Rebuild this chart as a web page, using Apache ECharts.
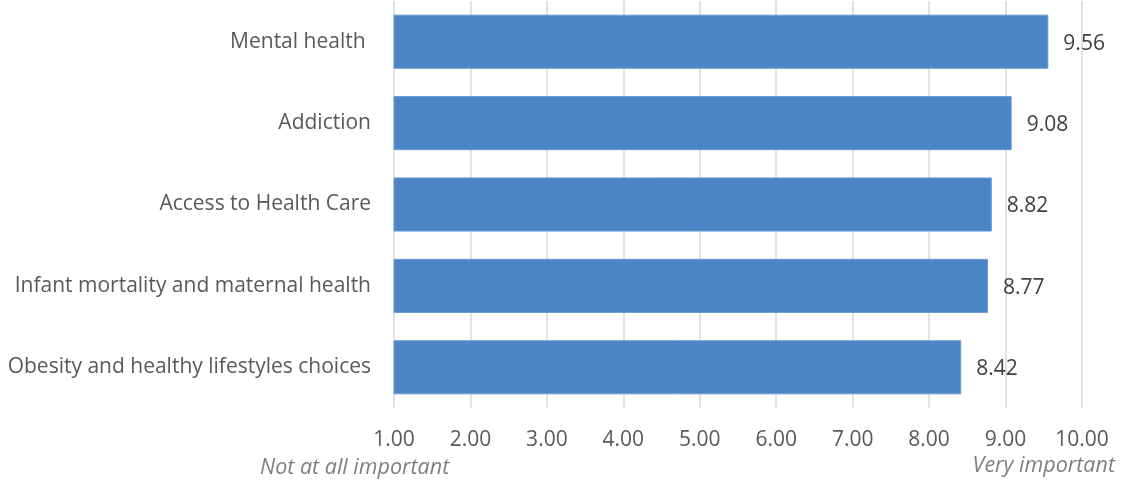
<!DOCTYPE html>
<html>
<head>
<meta charset="utf-8">
<script src="https://cdn.jsdelivr.net/npm/echarts@6/dist/echarts.min.js"></script>
<style>
html,body{margin:0;padding:0;background:#fff;}
#chart{width:1121px;height:483px;}
</style>
</head>
<body>
<div id="chart"></div>
<script>
var categories = ["Obesity and healthy lifestyles choices", "Infant mortality and maternal health", "Access to Health Care", "Addiction", "Mental health "];
var values = [8.42, 8.77, 8.82, 9.08, 9.56];
var tickMin = 1, tickMax = 10, tickStep = 1;
var lowNote = "Not at all important";
var highNote = "Very important";

var FONT = "'Open Sans', sans-serif";
var FS = 21;
var chart = echarts.init(document.getElementById('chart'), null, {renderer: 'canvas'});
chart.setOption({
  animation: false,
  grid: {left: 394, right: 39, top: 1, bottom: 75, containLabel: false},
  xAxis: {
    type: 'value', min: tickMin, max: tickMax, interval: tickStep,
    axisLine: {show: false}, axisTick: {show: false},
    splitLine: {show: true, lineStyle: {color: '#d9d9d9', width: 1.5}},
    axisLabel: {color: '#595959', fontSize: FS, fontFamily: FONT, margin: 22,
      formatter: function(v){ return v.toFixed(2); }}
  },
  yAxis: {
    type: 'category', data: categories,
    axisLine: {show: false}, axisTick: {show: false},
    axisLabel: {color: '#595959', fontSize: FS, fontFamily: FONT, margin: 23}
  },
  series: [{
    type: 'bar', data: values, barCategoryGap: '33.5%',
    itemStyle: {color: '#4c85c5', borderColor: '#6a9bd3', borderWidth: 1},
    label: {show: true, position: 'right', distance: 15, color: '#404040', fontSize: FS, fontFamily: FONT,
      offset: [0, 2],
      formatter: function(p){ return p.value.toFixed(2); }}
  }],
  graphic: [
    {type: 'text', left: 260, top: 457, style: {text: lowNote, fill: '#7f7f7f', font: 'italic 21.5px ' + FONT}},
    {type: 'text', right: 6, top: 455, style: {text: highNote, fill: '#7f7f7f', font: 'italic 21.5px ' + FONT}}
  ]
});
</script>
</body>
</html>
